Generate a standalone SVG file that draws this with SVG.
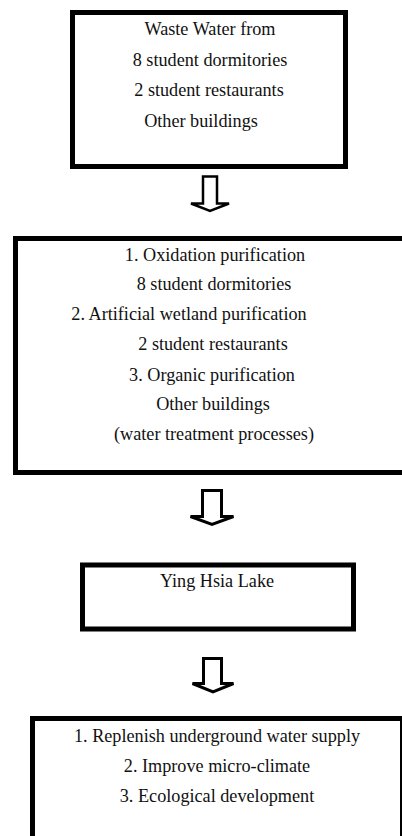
<svg xmlns="http://www.w3.org/2000/svg" width="402" height="836" viewBox="0 0 402 836">
<style>
  .box { fill: #fff; stroke: #000; stroke-width: 5; }
  .arrow { fill: #fff; stroke: #000; stroke-width: 3; stroke-linejoin: miter; }
  text { font-family: "Liberation Serif", "Times New Roman", serif; font-size: 18.2px; fill: #111; text-anchor: middle; }
</style>
<rect width="402" height="836" fill="#fff"/>
<g id="connectors">
  <path class="arrow" style="stroke-width:2.5" d="M203,176.5 H217 V203.5 H229 L210,211 L191,203.5 H203 Z"/>
  <path class="arrow" d="M202.5,490.5 H221.5 V516.5 H233.5 L212,524.5 L190.5,516.5 H202.5 Z"/>
  <path class="arrow" d="M203.5,658.5 H221.5 V683.5 H233.5 L213,692 L192.5,683.5 H203.5 Z"/>
</g>
<g id="waste-water">
  <rect class="box" x="72.5" y="12.5" width="273" height="154"/>
  <text x="210" y="35">Waste Water from</text>
  <text x="210" y="66">8 student dormitories</text>
  <text x="209" y="96">2 student restaurants</text>
  <text x="201" y="127">Other buildings</text>
</g>
<g id="treatment">
  <rect class="box" x="15.5" y="238.5" width="400" height="234"/>
  <text x="215" y="261">1. Oxidation purification</text>
  <text x="214" y="290">8 student dormitories</text>
  <text x="189" y="320">2. Artificial wetland purification</text>
  <text x="213" y="350">2 student restaurants</text>
  <text x="212" y="381">3. Organic purification</text>
  <text x="213" y="410">Other buildings</text>
  <text x="214" y="440">(water treatment processes)</text>
</g>
<g id="lake">
  <rect class="box" x="82.5" y="565" width="271" height="64"/>
  <text x="217" y="587">Ying Hsia Lake</text>
</g>
<g id="benefits">
  <rect class="box" x="32.5" y="718.5" width="370" height="130"/>
  <text x="217" y="742">1. Replenish underground water supply</text>
  <text x="217" y="772">2. Improve micro-climate</text>
  <text x="217" y="802">3. Ecological development</text>
</g>
</svg>
